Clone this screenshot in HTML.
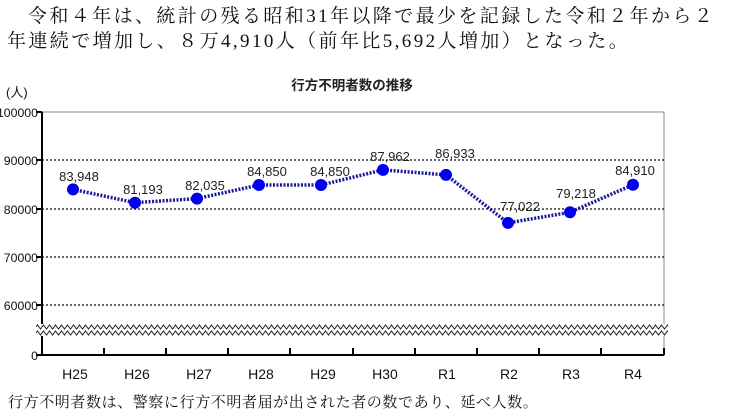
<!DOCTYPE html>
<html><head><meta charset="utf-8"><style>
body{margin:0;width:736px;height:416px;background:#fff;overflow:hidden;position:relative}
.t{position:absolute;font-family:"Liberation Serif","Noto Serif CJK SC",serif;font-size:19px;letter-spacing:2.4px;white-space:nowrap;color:#111;line-height:24px}
</style></head><body>
<div class="t" style="left:28px;top:5px">令和４年は、統計の残る昭和31年以降で最少を記録した令和２年から２</div>
<div class="t" style="left:7px;top:30px">年連続で増加し、８万4,910人（前年比5,692人増加）となった。</div>
<div class="t" style="left:8px;top:391px;font-size:15px;letter-spacing:0.6px">行方不明者数は、警察に行方不明者届が出された者の数であり、延べ人数。</div>
<svg width="736" height="416" style="position:absolute;left:0;top:0" font-family="Liberation Sans, Noto Sans CJK SC, sans-serif">
<text x="352" y="90" font-size="13.5" font-weight="bold" text-anchor="middle" fill="#222">行方不明者数の推移</text>
<text x="6" y="97" font-size="13" fill="#111">(人)</text>
<rect x="42" y="112" width="622" height="243" fill="none" stroke="#888" stroke-width="1"/>
<g stroke="#111" stroke-width="1.3" stroke-dasharray="2,2">
<line x1="42" y1="160" x2="664" y2="160"/><line x1="42" y1="209" x2="664" y2="209"/>
<line x1="42" y1="257" x2="664" y2="257"/><line x1="42" y1="305" x2="664" y2="305"/>
</g>
<g font-size="12.3" text-anchor="end" fill="#111">
<text x="38" y="117">100000</text><text x="38" y="165">90000</text><text x="38" y="214">80000</text>
<text x="38" y="262">70000</text><text x="38" y="310">60000</text><text x="38" y="360">0</text>
</g>
<g stroke="#000" stroke-width="2">
<line x1="42" y1="112" x2="42" y2="356"/><line x1="41" y1="355" x2="664" y2="355"/>
<line x1="36" y1="112" x2="42" y2="112"/><line x1="36" y1="160" x2="42" y2="160"/><line x1="36" y1="209" x2="42" y2="209"/><line x1="36" y1="257" x2="42" y2="257"/><line x1="36" y1="305" x2="42" y2="305"/><line x1="36" y1="355" x2="42" y2="355"/>
<path d="M104 348V355M166 348V355M228 348V355M290 348V355M353 348V355M415 348V355M477 348V355M539 348V355M601 348V355M664 348V355"/>
</g>
<rect x="38" y="324" width="632" height="12" fill="#fff"/>
<defs><clipPath id="c"><rect x="36" y="320" width="632" height="20"/></clipPath></defs>
<g fill="none" stroke="#222" stroke-width="1" clip-path="url(#c)">
<path id="w" d="M36 327 l1.5 -2 l3 4 l3 -4 l3 4 l3 -4 l3 4 l3 -4 l3 4 l3 -4 l3 4 l3 -4 l3 4 l3 -4 l3 4 l3 -4 l3 4 l3 -4 l3 4 l3 -4 l3 4 l3 -4 l3 4 l3 -4 l3 4 l3 -4 l3 4 l3 -4 l3 4 l3 -4 l3 4 l3 -4 l3 4 l3 -4 l3 4 l3 -4 l3 4 l3 -4 l3 4 l3 -4 l3 4 l3 -4 l3 4 l3 -4 l3 4 l3 -4 l3 4 l3 -4 l3 4 l3 -4 l3 4 l3 -4 l3 4 l3 -4 l3 4 l3 -4 l3 4 l3 -4 l3 4 l3 -4 l3 4 l3 -4 l3 4 l3 -4 l3 4 l3 -4 l3 4 l3 -4 l3 4 l3 -4 l3 4 l3 -4 l3 4 l3 -4 l3 4 l3 -4 l3 4 l3 -4 l3 4 l3 -4 l3 4 l3 -4 l3 4 l3 -4 l3 4 l3 -4 l3 4 l3 -4 l3 4 l3 -4 l3 4 l3 -4 l3 4 l3 -4 l3 4 l3 -4 l3 4 l3 -4 l3 4 l3 -4 l3 4 l3 -4 l3 4 l3 -4 l3 4 l3 -4 l3 4 l3 -4 l3 4 l3 -4 l3 4 l3 -4 l3 4 l3 -4 l3 4 l3 -4 l3 4 l3 -4 l3 4 l3 -4 l3 4 l3 -4 l3 4 l3 -4 l3 4 l3 -4 l3 4 l3 -4 l3 4 l3 -4 l3 4 l3 -4 l3 4 l3 -4 l3 4 l3 -4 l3 4 l3 -4 l3 4 l3 -4 l3 4 l3 -4 l3 4 l3 -4 l3 4 l3 -4 l3 4 l3 -4 l3 4 l3 -4 l3 4 l3 -4 l3 4 l3 -4 l3 4 l3 -4 l3 4 l3 -4 l3 4 l3 -4 l3 4 l3 -4 l3 4 l3 -4 l3 4 l3 -4 l3 4 l3 -4 l3 4 l3 -4 l3 4 l3 -4 l3 4 l3 -4 l3 4 l3 -4 l3 4 l3 -4 l3 4 l3 -4 l3 4 l3 -4 l3 4 l3 -4 l3 4 l3 -4 l3 4 l3 -4 l3 4 l3 -4 l3 4 l3 -4 l3 4 l3 -4 l3 4 l3 -4 l3 4 l3 -4 l3 4 l3 -4 l3 4 l3 -4 l3 4 l3 -4 l3 4 l3 -4 l3 4 l3 -4 l3 4 l3 -4 l3 4 l3 -4 l3 4 l3 -4 l3 4 l3 -4 l3 4 l3 -4 l3 4 l3 -4 l3 4 l3 -4 l3 4 l3 -4 l3 4 l3 -4 l3 4 l3 -4 l3 4 l3 -4 l3 4 l3 -4 l3 4 l3 -4 l3 4"/>
<use href="#w" y="6"/>
</g>
<polyline points="73,189.4 135,202.7 197,198.6 259,185 321,185 383,169.9 446,174.9 508,222.9 570,212.3 633,184.7" fill="none" stroke="#1a1a9a" stroke-width="3.5" stroke-dasharray="2,1.5"/>
<g fill="#0000ee">
<circle cx="73" cy="189.4" r="6"/><circle cx="135" cy="202.7" r="6"/><circle cx="197" cy="198.6" r="6"/><circle cx="259" cy="185" r="6"/><circle cx="321" cy="185" r="6"/><circle cx="383" cy="169.9" r="6"/><circle cx="446" cy="174.9" r="6"/><circle cx="508" cy="222.9" r="6"/><circle cx="570" cy="212.3" r="6"/><circle cx="633" cy="184.7" r="6"/>
</g>
<g font-size="13" text-anchor="middle" fill="#222">
<text x="79" y="181">83,948</text><text x="143" y="194">81,193</text><text x="205" y="190">82,035</text><text x="267" y="176">84,850</text><text x="330" y="176">84,850</text><text x="390" y="161">87,962</text><text x="455" y="158">86,933</text><text x="520" y="211">77,022</text><text x="576" y="198">79,218</text><text x="635" y="175">84,910</text>
</g>
<g font-size="14" text-anchor="middle" fill="#111">
<text x="75" y="379">H25</text><text x="137" y="379">H26</text><text x="199" y="379">H27</text><text x="261" y="379">H28</text><text x="323" y="379">H29</text><text x="385" y="379">H30</text><text x="447" y="379">R1</text><text x="509" y="379">R2</text><text x="571" y="379">R3</text><text x="633" y="379">R4</text>
</g>
</svg>
</body></html>
